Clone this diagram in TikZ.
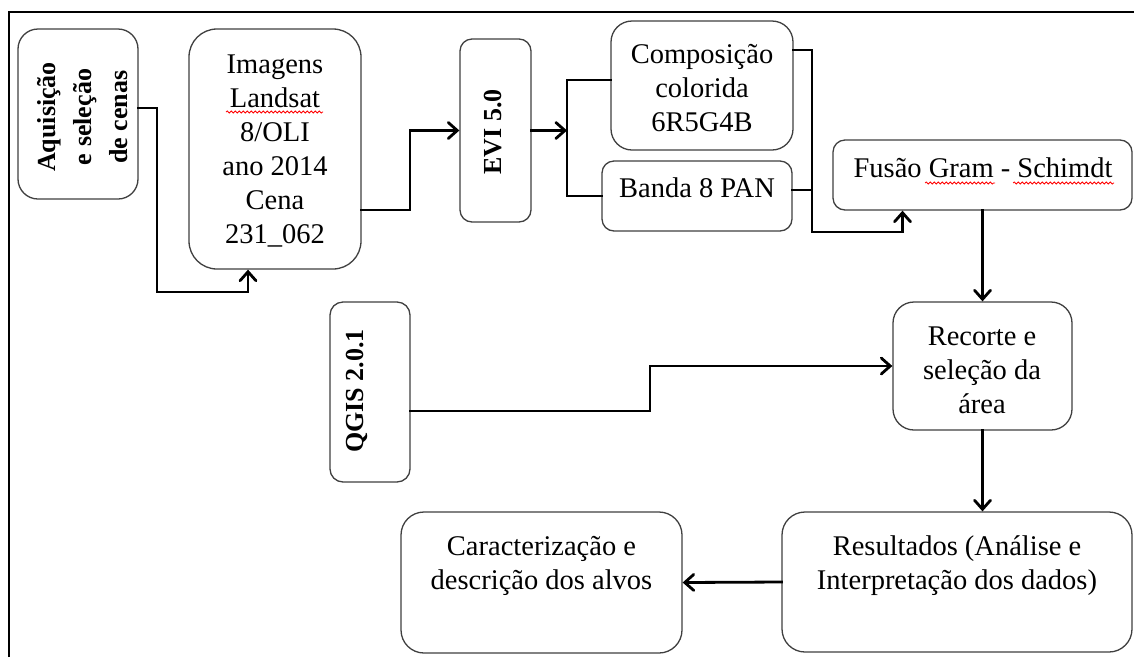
\documentclass[tikz,border=0pt]{standalone}
\usepackage{fontspec}
\setmainfont{Liberation Serif}
\usetikzlibrary{arrows.meta,decorations.pathmorphing}
\begin{document}
\begin{tikzpicture}[x=1pt,y=-1pt,
  box/.style={draw=black!75,line width=1.3pt,fill=none,inner sep=0pt,rectangle},
  txt/.style={font=\fontsize{28.5}{34}\selectfont,inner sep=0pt,align=center},
  btxt/.style={font=\fontsize{26}{36}\selectfont\bfseries,inner sep=0pt,align=center,rotate=90},
  conn/.style={line width=2.8pt,line cap=rect,line join=miter},
  arr/.style={conn,-{Straight Barb[length=9pt,width=16pt,line cap=round]}},
  spell/.style={red,line width=0.8pt,decorate,decoration={snake,segment length=4pt,amplitude=1pt}}]
\useasboundingbox (0,0) rectangle (1134,657);
\fill[white] (0,0) rectangle (1134,657);
% frame
\draw[line width=2.6pt] (9,657) -- (9,12) -- (1134,12);
% boxes
\node[box,minimum width=120pt,minimum height=170pt,rounded corners=20pt] (aq) at (78,114) {};
\node[box,minimum width=172pt,minimum height=240pt,rounded corners=28pt] (img) at (275,149) {};
\node[box,minimum width=71pt,minimum height=183pt,rounded corners=12pt] (evi) at (495.5,130.5) {};
\node[box,minimum width=182pt,minimum height=129pt,rounded corners=21pt] (comp) at (702,85.5) {};
\node[box,minimum width=190pt,minimum height=70pt,rounded corners=12pt] (banda) at (697,196) {};
\node[box,minimum width=299pt,minimum height=70pt,rounded corners=12pt] (fus) at (982.5,175) {};
\node[box,minimum width=80pt,minimum height=180pt,rounded corners=13pt] (qgis) at (370,392) {};
\node[box,minimum width=179pt,minimum height=128pt,rounded corners=21pt] (rec) at (982.5,366) {};
\node[box,minimum width=350pt,minimum height=140pt,rounded corners=23pt] (res) at (957,582) {};
\node[box,minimum width=281pt,minimum height=141pt,rounded corners=23pt] (car) at (541.5,582.5) {};
% texts
\node[btxt] (aqt) at (83,117) {Aquisição\\e seleção\\de cenas};
\node[txt] (imgt) at (275,151) {Imagens\\Landsat\\8/OLI\\ano 2014\\Cena\\231\_062};
\node[btxt] (evit) at (493,132) {EVI 5.0};
\node[txt] (compt) at (702,88) {Composição\\colorida\\6R5G4B};
\node[txt] (bandat) at (697,188) {Banda 8 PAN};
\node[txt] (fust) at (983,168) {Fusão Gram - Schimdt};
\node[btxt] (qgist) at (357,391) {QGIS 2.0.1};
\node[txt] (rect) at (982,370) {Recorte e\\seleção da\\área};
\node[txt] (rest) at (957,566) {Resultados (Análise e\\Interpretação dos dados)};
\node[txt] (cart) at (541.5,566) {Caracterização e\\descrição dos alvos};
% spell-check squiggles
\draw[spell] (226,112) -- (323,112);
\draw[spell] (925,183) -- (995,183);
\draw[spell] (1013,183) -- (1114,183);
% connectors
\coordinate (split) at (567,130.5);
\coordinate (bus) at (812,232);
\draw[arr] ([yshift=6pt]aq.east) -| (157,292) -| ([xshift=-27pt]img.south);
\draw[arr] ([yshift=-61pt]img.east) -- (410,210) |- (evi.west);
\draw[arr] (evi.east) -- (split);
\draw[conn] ([yshift=5.5pt]comp.west) -| (split) |- (banda.west);
\draw[arr] ([yshift=35.5pt]comp.east) -| (bus) -| ([xshift=-80pt]fus.south);
\draw[conn] ([yshift=6pt]banda.east) -- (bus |- {(0,190)});
\draw[arr] (rec.north |- fus.south) -- (rec.north);
\draw[arr] ([yshift=-19pt]qgis.east) -| (650,366) -- (rec.west);
\draw[arr] (rec.south) -- (rec.south |- res.north);
\draw[arr] (res.west) -- (car.east);
\end{tikzpicture}
\end{document}
